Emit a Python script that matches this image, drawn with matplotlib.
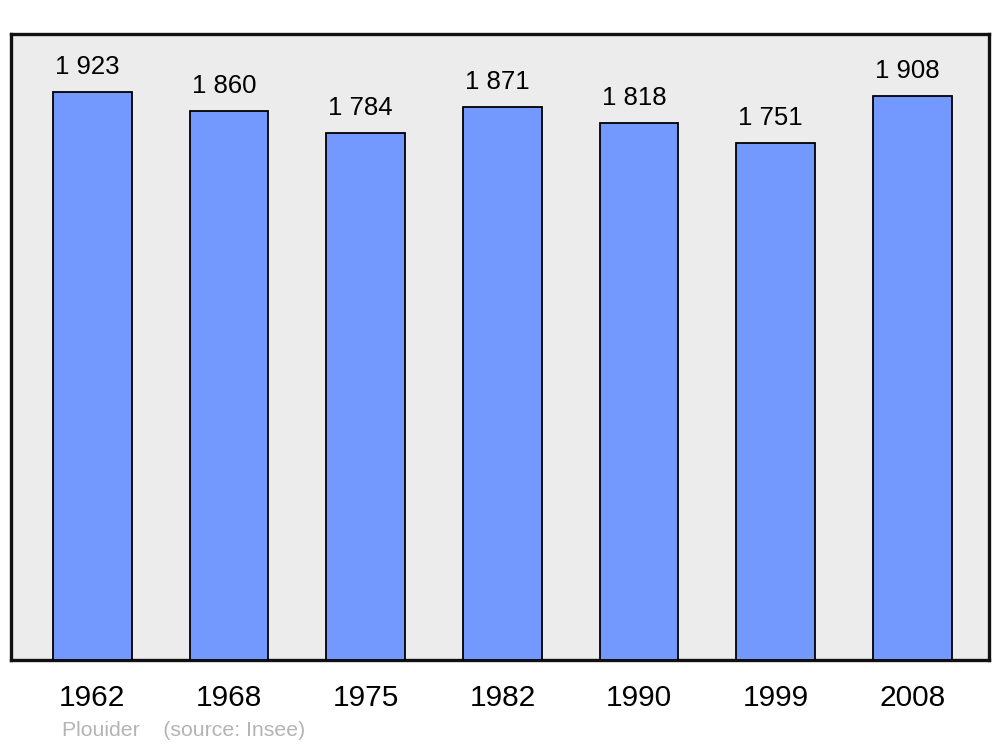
import matplotlib.pyplot as plt
import numpy as np

years = ["1962", "1968", "1975", "1982", "1990", "1999", "2008"]
population = [1923, 1860, 1784, 1871, 1818, 1751, 1908]
labels = ["1 923", "1 860", "1 784", "1 871", "1 818", "1 751", "1 908"]

plt.rcParams["font.family"] = ["Liberation Sans", "DejaVu Sans"]

fig = plt.figure(figsize=(10, 7.47), dpi=100)
fig.patch.set_facecolor("white")
ax = fig.add_axes([11 / 1000, 1 - 660 / 747, 978 / 1000, 626 / 747])
ax.set_facecolor("#ececec")

x = np.arange(len(years))
bars = ax.bar(x, population, width=0.575, color="#7399ff", edgecolor="black",
              linewidth=1.3, zorder=3)

# value labels sit slightly left of bar centre, as in the source
for xi, v, lab in zip(x, population, labels):
    ax.annotate(lab, (xi, v), xytext=(-3.6, 18), textcoords="offset points",
                ha="center", va="center", fontsize=18.5, color="black")

ax.set_xlim(-0.595, 6.56)
ax.set_ylim(0, 2119)
ax.set_yticks([])
ax.set_xticks(x)
ax.set_xticklabels(years, fontsize=21.5)
ax.tick_params(axis="x", length=0, pad=17)
for s in ax.spines.values():
    s.set_linewidth(2.4)
    s.set_color("#111111")

fig.text(62 / 1000, 1 - 731 / 747, "Plouider    (source: Insee)", fontsize=15.3,
         color="#b4b4b4", ha="left", va="center")

fig.savefig("out.png", dpi=100, facecolor="white")
